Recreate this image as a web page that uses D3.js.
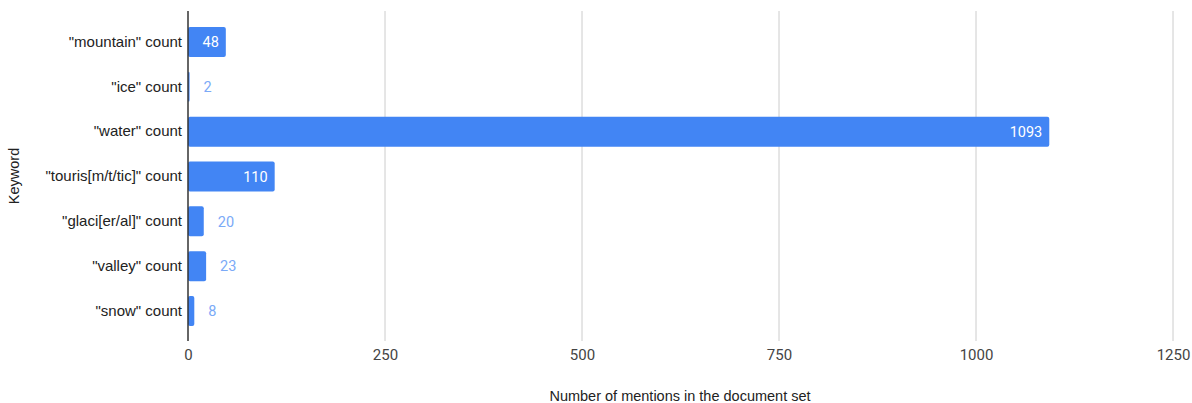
<!DOCTYPE html>
<html>
<head>
<meta charset="utf-8">
<script src="https://cdn.jsdelivr.net/npm/d3@7"></script>
<style>
body { margin: 0; background: #fff; }
text { font-family: "Liberation Sans", Arial, sans-serif; }
</style>
</head>
<body>
<div id="chart"></div>
<script>
var keywords = ['"mountain" count', '"ice" count', '"water" count', '"touris[m/t/tic]" count',
  '"glaci[er/al]" count', '"valley" count', '"snow" count'];
var counts = [48, 2, 1093, 110, 20, 23, 8];
var xTicks = [0, 250, 500, 750, 1000, 1250];

var width = 1192, height = 403;
var svg = d3.select("#chart").append("svg").attr("width", width).attr("height", height);

var x = d3.scaleLinear().domain([0, 1250]).range([188, 1173]);
var y = d3.scaleBand().domain(keywords).range([19.6, 333.4]).paddingInner(0.33).paddingOuter(0.165);

// grid
svg.selectAll("line.grid").data(xTicks.slice(1)).enter().append("line")
  .attr("x1", function(d){ return x(d); }).attr("x2", function(d){ return x(d); })
  .attr("y1", 11).attr("y2", 341)
  .attr("stroke", "#cccccc").attr("stroke-width", 1);

// x tick labels
var xAxis = d3.axisBottom(x).tickValues(xTicks).tickSize(0).tickPadding(0).tickFormat(d3.format("d"));
var gx = svg.append("g").attr("transform", "translate(0,349)").call(xAxis);
gx.select(".domain").remove();
gx.selectAll("text").attr("font-size", 15).attr("fill", "#444").attr("dy", "0.71em")
  .style("font-family", "Roboto, Arial, sans-serif");

// bars
svg.selectAll("rect.bar").data(counts).enter().append("rect")
  .attr("x", x(0))
  .attr("y", function(d, i){ return y(keywords[i]); })
  .attr("width", function(d){ return Math.max(1, x(d) - x(0)); })
  .attr("height", y.bandwidth())
  .attr("rx", 2)
  .attr("fill", "#4285f4");

// value labels
svg.selectAll("text.val").data(counts).enter().append("text")
  .attr("x", function(d){ return d >= 40 ? x(d) - 7 : x(d) + 14; })
  .attr("y", function(d, i){ return y(keywords[i]) + y.bandwidth() / 2; })
  .attr("dy", "0.36em")
  .attr("text-anchor", function(d){ return d >= 40 ? "end" : "start"; })
  .attr("font-size", 14.5)
  .style("font-family", "Roboto, Arial, sans-serif")
  .attr("fill", function(d){ return d >= 40 ? "#ffffff" : "#7baaf7"; })
  .text(function(d){ return d; });

// y axis
var yAxis = d3.axisLeft(y).tickSize(0).tickPadding(6);
var gy = svg.append("g").attr("transform", "translate(188,0)").call(yAxis);
gy.select(".domain").remove();
gy.selectAll("text").attr("font-size", 15).attr("fill", "#222")
  .style("font-family", "'Liberation Sans', Arial, sans-serif");

svg.append("line").attr("x1", 188).attr("x2", 188).attr("y1", 11).attr("y2", 341)
  .attr("stroke", "#333").attr("stroke-width", 1.5);

// titles
svg.append("text").attr("x", 680).attr("y", 401)
  .attr("text-anchor", "middle").attr("font-size", 14.5).attr("fill", "#222")
  .text("Number of mentions in the document set");

svg.append("text").attr("transform", "translate(19,176) rotate(-90)")
  .attr("text-anchor", "middle").attr("font-size", 14.5).attr("fill", "#222")
  .text("Keyword");
</script>
</body>
</html>
